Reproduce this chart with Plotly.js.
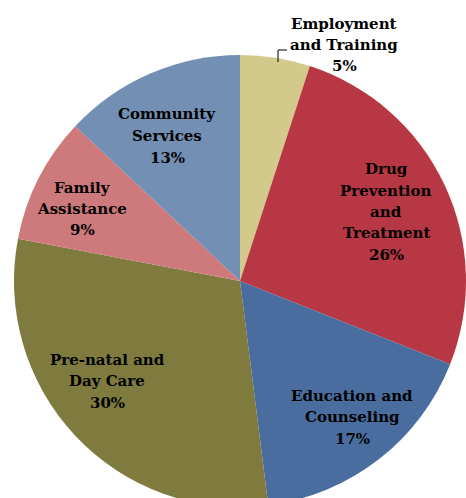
<!DOCTYPE html>
<html><head><meta charset="utf-8">
<script src="https://cdn.plot.ly/plotly-3.0.1.min.js"></script>
<style>html,body{margin:0;padding:0;overflow:hidden;background:#fff}</style>
</head><body>
<div id="chart"></div>
<script>
const labels = ["Employment<br>and Training", "Drug<br>Prevention<br>and<br>Treatment", "Education and<br>Counseling", "Pre-natal and<br>Day Care", "Family<br>Assistance", "Community<br>Services"];
const values = [5, 26, 17, 30, 9, 13];
const colors = ["#D3C98A", "#B83744", "#4A6D9F", "#7F7A3E", "#CE797C", "#748FB4"];
// label placement (pixel centres), layout only
const labelPos = [[344, 45], [386, 212], [352, 417], [107, 381], [82, 209], [167, 136]];

const W = 466, H = 510, LINE = 21.5;
const total = values.reduce((a, b) => a + b, 0);
const annotations = [];
labels.forEach((l, i) => {
  const lines = l.split("<br>").concat([Math.round(values[i] / total * 100) + "%"]);
  const n = lines.length;
  lines.forEach((t, k) => {
    const py = labelPos[i][1] + (k - (n - 1) / 2) * LINE;
    annotations.push({
      text: "<b>" + t + "</b>",
      x: labelPos[i][0] / W, y: 1 - py / H,
      xref: "paper", yref: "paper", showarrow: false,
      xanchor: "center", yanchor: "middle", align: "center",
      font: {family: "DejaVu Serif", size: 15, color: "#000"}
    });
  });
});

const data = [{
  type: "pie", labels: labels, values: values, sort: false,
  direction: "clockwise", rotation: 0,
  marker: {colors: colors, line: {width: 0}},
  textinfo: "none", hoverinfo: "label+percent",
  domain: {x: [14 / W, 466 / W], y: [3 / H, 1 - 55 / H]}
}];

const layout = {
  width: W, height: H, margin: {l: 0, r: 0, t: 0, b: 0},
  showlegend: false, paper_bgcolor: "#fff",
  annotations: annotations,
  shapes: [{type: "path", xref: "paper", yref: "paper",
    path: "M " + (278 / W) + " " + (1 - 62 / H) + " L " + (278 / W) + " " + (1 - 50 / H) + " L " + (287 / W) + " " + (1 - 50 / H),
    line: {color: "#000", width: 1}}]
};
Plotly.newPlot("chart", data, layout, {displayModeBar: false, staticPlot: true});
</script>
</body></html>
